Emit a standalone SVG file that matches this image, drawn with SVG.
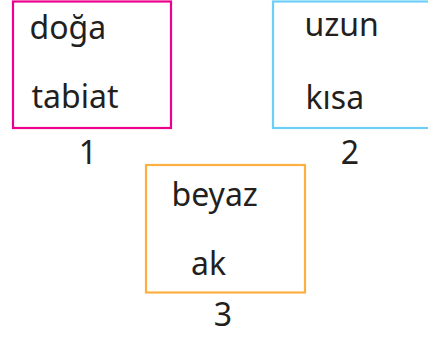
<svg xmlns="http://www.w3.org/2000/svg" width="428" height="337" viewBox="0 0 428 337">
<style>
.t{font-family:"Noto Sans","Open Sans",sans-serif;font-size:32px;fill:#231f20}
.b{fill:#fff;stroke-width:2.2}
</style>
<rect width="428" height="337" fill="#fff"/>
<g id="node1">
<rect class="b" x="13" y="1.5" width="158" height="126.5" stroke="#ec008c"/>
<text class="t" x="29.5" y="38.5">doğa</text>
<text class="t" x="31.5" y="108">tabiat</text>
<text class="t" x="88" y="163.5" text-anchor="middle">1</text>
</g>
<g id="node2">
<rect class="b" x="273" y="1.5" width="160" height="126.5" stroke="#6dcff6"/>
<text class="t" x="304.5" y="36">uzun</text>
<text class="t" x="305.5" y="109">kısa</text>
<text class="t" x="350" y="164" text-anchor="middle">2</text>
</g>
<g id="node3">
<rect class="b" x="146" y="165" width="159" height="127.5" stroke="#fbb040"/>
<text class="t" x="171.5" y="205.5">beyaz</text>
<text class="t" x="191" y="275">ak</text>
<text class="t" x="223" y="326" text-anchor="middle">3</text>
</g>
<g id="connectors"/>
</svg>
